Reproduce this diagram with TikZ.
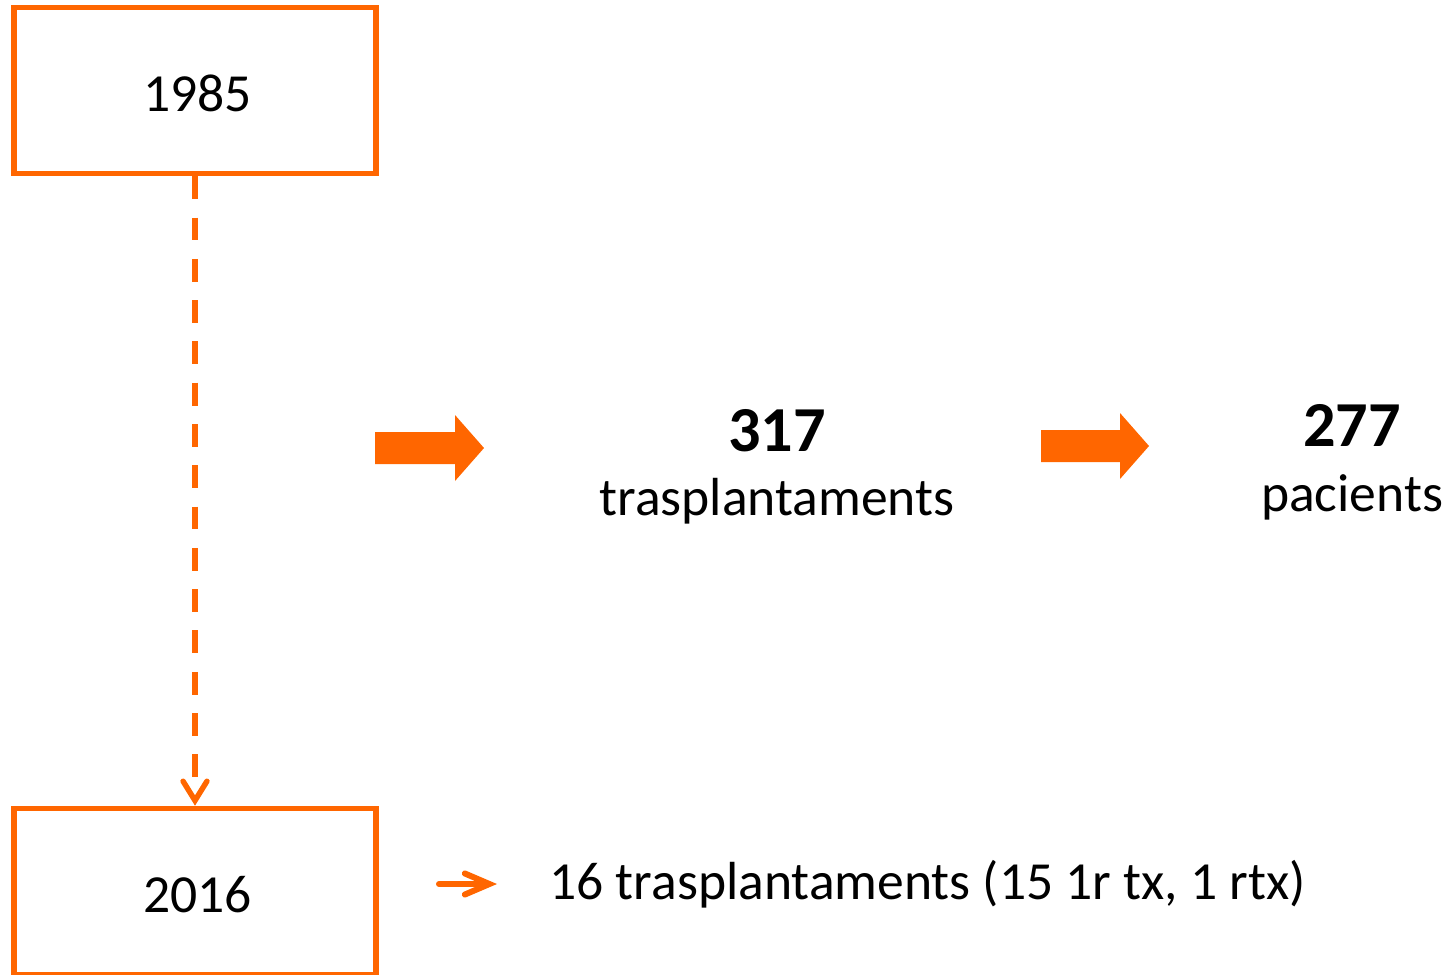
\documentclass[tikz,border=0pt]{standalone}
\usepackage{fontspec}
\setmainfont{Carlito}
\usetikzlibrary{arrows.meta}

\definecolor{txorange}{RGB}{255,102,0}
\newcommand{\bigtxt}{\fontsize{30.5}{36}\selectfont}
\newcommand{\numfont}{\fontsize{36.5}{42}\selectfont\bfseries}

\tikzset{
  yearbox/.style={draw=txorange,line width=3.2pt,minimum width=7.24cm,minimum height=3.32cm,
    inner sep=0pt,font=\bigtxt,text height=23.8pt,text depth=0pt},
  numtxt/.style={font=\numfont,inner sep=0pt,anchor=base},
  wordtxt/.style={font=\bigtxt,inner sep=0pt,anchor=base},
  blockarrow/.style={fill=txorange},
}

\begin{document}
\begin{tikzpicture}[x=0.02cm,y=-0.02cm]
    \useasboundingbox (0,0) rectangle (1449,974);
    \node[yearbox] (y1985) at (195,90.5) {\hspace*{3pt}1985};
    \node[yearbox] (y2016) at (195,891.5) {\hspace*{3pt}2016};
    \draw[txorange,line width=3.1pt,dash pattern=on 13pt off 10.5pt,
        -{Straight Barb[length=11pt,width=13.6pt,line cap=round]}] (y1985.south) -- (y2016.north);
    % big arrows
    \fill[blockarrow] (375,432) -- (455,432) -- (455,415) -- (484,448) -- (455,481) -- (455,464) -- (375,464) -- cycle;
    \fill[blockarrow] (1041,430) -- (1120,430) -- (1120,413) -- (1149,446) -- (1120,479) -- (1120,462) -- (1041,462) -- cycle;
    \node[numtxt] (n317) at (777,451) {317};
    \node[wordtxt] (trasp) at (777,515) {trasplantaments};
    \node[numtxt] (n277) at (1352,446) {277};
    \node[wordtxt] (pac) at (1352,511) {pacients};
    % 2016
    \coordinate (s0) at (439,884);
    \coordinate (s1) at (497,884);
    \draw[txorange,line width=3.4pt,line cap=round,
        -{Straight Barb[length=14pt,width=12pt,line cap=round]}] (s0) -- (s1);
    \node[wordtxt,anchor=base west] (note) at (549,899) {16 trasplantaments (15 1r tx, 1 rtx)};
\end{tikzpicture}
\end{document}
